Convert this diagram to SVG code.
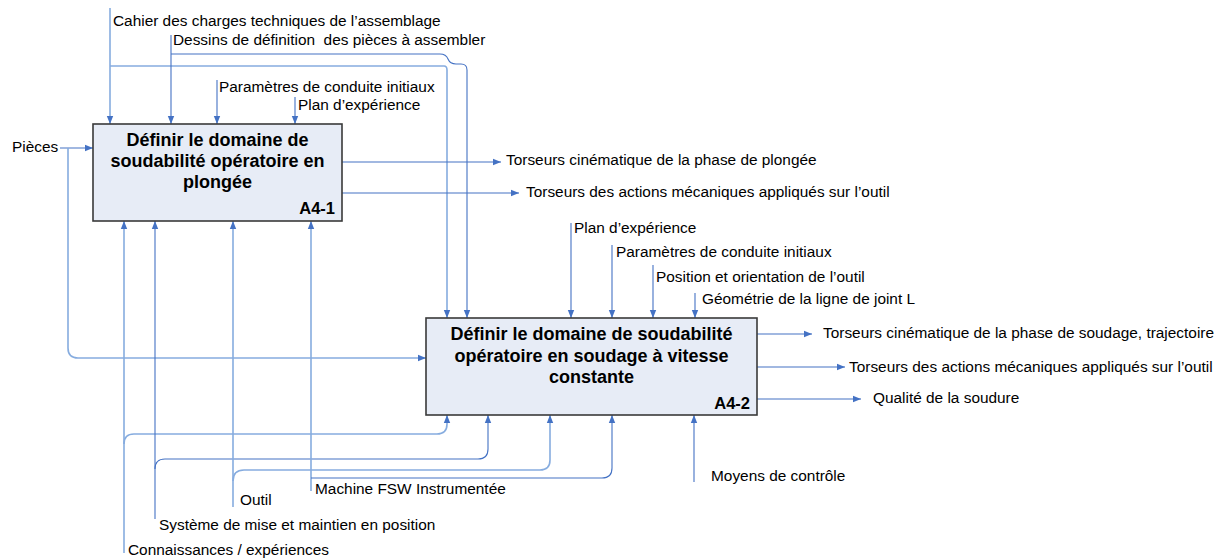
<svg xmlns="http://www.w3.org/2000/svg" width="1223" height="558" viewBox="0 0 1223 558">
<style>
text{font-family:"Liberation Sans",Arial,sans-serif;fill:#000}
.lbl{font-size:15.4px}
.ttl{font-size:18px;font-weight:bold;text-anchor:middle}
.code{font-size:16.5px;font-weight:bold;text-anchor:end}
.box{fill:#E7ECF6;stroke:#3a3a3a;stroke-width:1.6}
.d{fill:none;stroke:#4472C4;stroke-width:1.1}
.l{fill:none;stroke:#86ACDF;stroke-width:1.6}
</style>
<defs>
<marker id="ah" viewBox="0 0 8 8" refX="8" refY="4" markerWidth="8" markerHeight="8" markerUnits="userSpaceOnUse" orient="auto">
<path d="M0,0.8 L8,4 L0,7.2 Z" fill="#4472C4"/>
</marker>
</defs>
<rect width="1223" height="558" fill="#fff"/>
<g id="connectors">
<path class="l" d="M110,8 V124" marker-end="url(#ah)"/>
<path class="l" d="M110,66 H444 Q447,66 447,70 V318" marker-end="url(#ah)"/>
<path class="d" d="M171,35 V124" marker-end="url(#ah)"/>
<path class="d" d="M171,54 H440 Q446,54 448,59 Q450,64 456,64 H461 Q467,64 467,70 V318" marker-end="url(#ah)"/>
<path class="d" d="M217,80 V124" marker-end="url(#ah)"/>
<path class="d" d="M295,97 V124" marker-end="url(#ah)"/>
<path class="d" d="M60,148 H93" marker-end="url(#ah)"/>
<path class="l" d="M68,148 V348 Q68,358 78,358 H426" marker-end="url(#ah)"/>
<path class="d" d="M342,162 H501" marker-end="url(#ah)"/>
<path class="d" d="M342,193 H519" marker-end="url(#ah)"/>
<path class="d" d="M571,223 V318" marker-end="url(#ah)"/>
<path class="d" d="M612,245 V318" marker-end="url(#ah)"/>
<path class="d" d="M653,265 V318" marker-end="url(#ah)"/>
<path class="d" d="M695,293 V318" marker-end="url(#ah)"/>
<path class="d" d="M757,334 H812" marker-end="url(#ah)"/>
<path class="d" d="M757,367 H845" marker-end="url(#ah)"/>
<path class="d" d="M757,399 H861" marker-end="url(#ah)"/>
<path class="l" d="M124,553 V221" marker-end="url(#ah)"/>
<path class="l" d="M124,444 Q124,434 134,434 H437 Q447,434 447,424 V415" marker-end="url(#ah)"/>
<path class="d" d="M155,519 V221" marker-end="url(#ah)"/>
<path class="d" d="M155,469 Q155,459 165,459 H478 Q488,459 488,449 V415" marker-end="url(#ah)"/>
<path class="l" d="M233,507 V221" marker-end="url(#ah)"/>
<path class="l" d="M233,481 Q233,470 244,470 H540 Q550,470 550,460 V415" marker-end="url(#ah)"/>
<path class="l" d="M311,491 V221" marker-end="url(#ah)"/>
<path class="d" d="M311,478 H602 Q612,478 612,468 V415" marker-end="url(#ah)"/>
<path class="d" d="M694,482 V415" marker-end="url(#ah)"/>
</g>
<g id="A4-1">
<rect class="box" x="93" y="124" width="249" height="97"/>
<text class="ttl" x="217.5" y="146">Définir le domaine de</text>
<text class="ttl" x="217.5" y="167">soudabilité opératoire en</text>
<text class="ttl" x="217.5" y="188">plongée</text>
<text class="code" x="335" y="214">A4-1</text>
</g>
<g id="A4-2">
<rect class="box" x="426" y="318" width="331" height="97"/>
<text class="ttl" x="591.5" y="340">Définir le domaine de soudabilité</text>
<text class="ttl" x="591.5" y="362">opératoire en soudage à vitesse</text>
<text class="ttl" x="591.5" y="383">constante</text>
<text class="code" x="750" y="409">A4-2</text>
</g>
<g id="labels">
<text class="lbl" x="113" y="26">Cahier des charges techniques de l’assemblage</text>
<text class="lbl" x="173" y="45">Dessins de définition&#160; des pièces à assembler</text>
<text class="lbl" x="219" y="92">Paramètres de conduite initiaux</text>
<text class="lbl" x="298" y="110">Plan d’expérience</text>
<text class="lbl" x="12" y="152">Pièces</text>
<text class="lbl" x="506" y="165">Torseurs cinématique de la phase de plongée</text>
<text class="lbl" x="526" y="197">Torseurs des actions mécaniques appliqués sur l’outil</text>
<text class="lbl" x="574" y="233">Plan d’expérience</text>
<text class="lbl" x="616" y="257">Paramètres de conduite initiaux</text>
<text class="lbl" x="656" y="282">Position et orientation de l’outil</text>
<text class="lbl" x="702" y="304">Géométrie de la ligne de joint L</text>
<text class="lbl" x="823" y="338">Torseurs cinématique de la phase de soudage, trajectoire</text>
<text class="lbl" x="849" y="372">Torseurs des actions mécaniques appliqués sur l’outil</text>
<text class="lbl" x="873" y="403">Qualité de la soudure</text>
<text class="lbl" x="711" y="481">Moyens de contrôle</text>
<text class="lbl" x="315" y="494">Machine FSW Instrumentée</text>
<text class="lbl" x="240" y="505">Outil</text>
<text class="lbl" x="159" y="530">Système de mise et maintien en position</text>
<text class="lbl" x="128" y="555">Connaissances / expériences</text>
</g>
</svg>
